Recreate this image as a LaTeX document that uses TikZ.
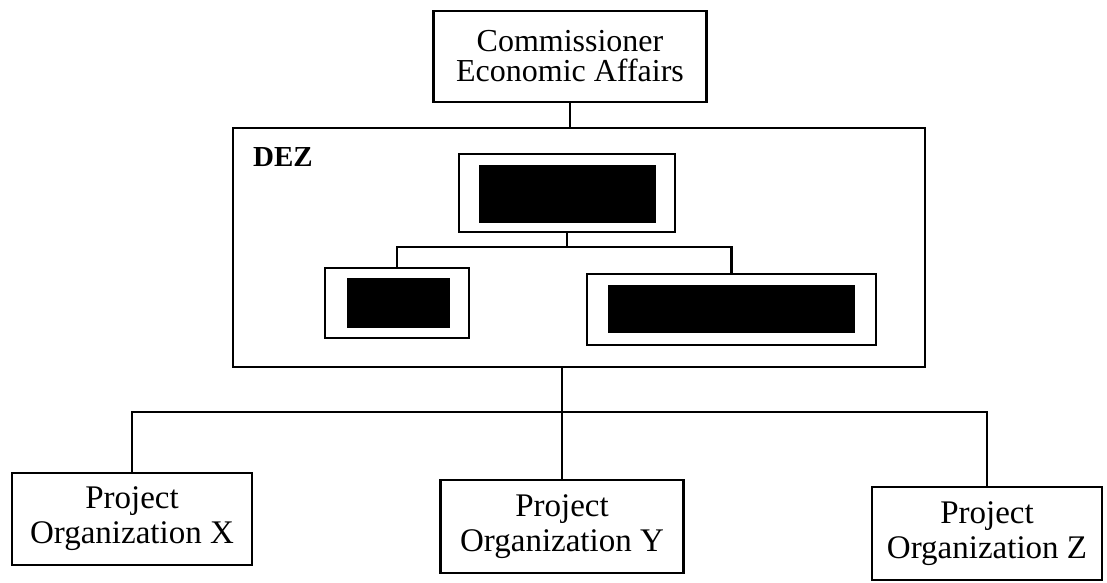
\documentclass[tikz,border=0pt]{standalone}
\usepackage{fontspec}
\setmainfont{Liberation Serif}
\begin{document}
\begin{tikzpicture}[x=1pt,y=-1pt,
  box/.style={draw, line width=2.6pt, align=center, inner sep=0pt},
  outerbox/.style={draw, line width=2.6pt, inner sep=0pt},
  blk/.style={fill=black, inner sep=0pt},
  conn/.style={line width=2.6pt},
  toptext/.style={font=\fontsize{32}{30}\selectfont},
  bottext/.style={font=\fontsize{33}{35}\selectfont}]
\useasboundingbox (0,0) rectangle (1107,582);
% top
\node[box, toptext, minimum width=273pt, minimum height=91pt] (comm) at (570,56.5) {Commissioner\\Economic Affairs};
% DEZ frame
\node[outerbox, minimum width=692pt, minimum height=239pt] (dez) at (579,247.5) {};
\node[anchor=base west, font=\fontsize{29}{29}\selectfont\bfseries, inner sep=0pt] (dezlabel) at (253,166) {DEZ};
% inner boxes
\node[outerbox, minimum width=216pt, minimum height=78pt] (mgr) at (567,193) {};
\node[blk, minimum width=177pt, minimum height=58pt] (mgrblk) at (567.5,194) {};
\node[outerbox, minimum width=144pt, minimum height=70pt] (lft) at (397,303) {};
\node[blk, minimum width=103pt, minimum height=50pt] (lftblk) at (398.5,303) {};
\node[outerbox, minimum width=289pt, minimum height=71pt] (rgt) at (731.5,309.5) {};
\node[blk, minimum width=247pt, minimum height=48pt] (rgtblk) at (731.5,309) {};
% project organizations
\node[box, bottext, minimum width=240pt, minimum height=92pt] (X) at (132,519) {Project\\Organization X};
\node[box, bottext, minimum width=243pt, minimum height=93pt] (Y) at (562,526.5) {Project\\Organization Y};
\node[box, bottext, minimum width=230pt, minimum height=93pt] (Z) at (987,533.5) {Project\\Organization Z};
% connectors
\coordinate (split) at (567,247);
\coordinate (bus) at (562,412);
\draw[conn] (comm.south) -- (comm.south |- dez.north);
\draw[conn] (mgr.south) -- (split);
\draw[conn] (lft.north) |- (split) -| (rgt.north);
\draw[conn] (dez.south -| Y.north) -- (Y.north);
\draw[conn] (X.north) |- (bus) -| (Z.north);
\end{tikzpicture}
\end{document}
